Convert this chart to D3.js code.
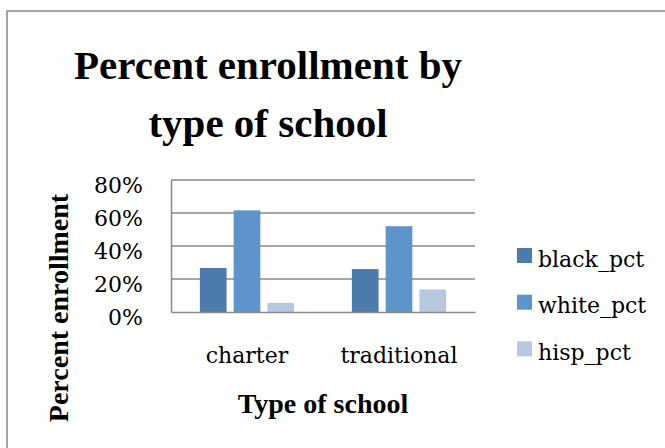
<!DOCTYPE html>
<html lang="en">

<head>
    <meta charset="UTF-8">
    <title>Percent enrollment by type of school</title>
    <script src="https://cdn.jsdelivr.net/npm/d3@7"></script>
    <style>
        * {
            margin: 0;
            padding: 0;
        }
        body {
            background: #fff;
        }
    </style>
</head>

<body>
</body>
<script>
    const width = 665
    const height = 448

    // data
    const categories = ['charter', 'traditional']
    const seriesNames = ['black_pct', 'white_pct', 'hisp_pct']
    const blackPct = [0.267, 0.260]
    const whitePct = [0.616, 0.520]
    const hispPct = [0.055, 0.137]
    const yTicks = [0, 0.2, 0.4, 0.6, 0.8]
    const colors = ['#4e7bad', '#5d95ca', '#b8c7e2']

    const values = [blackPct, whitePct, hispPct]

    const svg = d3.select('body')
        .append('svg')
        .attr('width', width)
        .attr('height', height)

    // plot area
    const plot = { left: 171, right: 475, top: 180, bottom: 312 }

    // chart border (runs off the right and bottom edges)
    svg.append('rect')
        .attr('x', 7)
        .attr('y', 11)
        .attr('width', 720)
        .attr('height', 520)
        .attr('fill', 'none')
        .attr('stroke', '#a3a3a3')
        .attr('stroke-width', 2)

    const x0 = d3.scaleBand()
        .domain(categories)
        .range([plot.left, plot.right])
        .paddingInner(0.38)
        .paddingOuter(0.19)

    const x1 = d3.scaleBand()
        .domain(seriesNames)
        .range([0, x0.bandwidth()])
        .paddingInner(0.21)

    const y = d3.scaleLinear()
        .domain([0, 0.8])
        .range([plot.bottom, plot.top])

    // gridlines
    svg.append('g')
        .selectAll('line')
        .data(yTicks.filter(d => d > 0))
        .enter()
        .append('line')
        .attr('x1', plot.left)
        .attr('x2', plot.right)
        .attr('y1', d => y(d))
        .attr('y2', d => y(d))
        .attr('stroke', '#8a8a8a')
        .attr('stroke-width', 1.5)

    // bars
    const groups = svg.selectAll('.group')
        .data(categories)
        .enter()
        .append('g')
        .attr('class', 'group')
        .attr('transform', d => 'translate(' + x0(d) + ',0)')

    groups.selectAll('rect')
        .data((c, i) => seriesNames.map((s, j) => ({ s: s, v: values[j][i], j: j })))
        .enter()
        .append('rect')
        .attr('x', d => x1(d.s))
        .attr('y', d => y(d.v))
        .attr('width', x1.bandwidth())
        .attr('height', d => plot.bottom - y(d.v))
        .attr('fill', d => colors[d.j])

    // y axis
    const yAxis = d3.axisLeft(y)
        .tickValues(yTicks)
        .tickFormat(d3.format('.0%'))
        .tickSize(0)
        .tickPadding(28)

    const gy = svg.append('g')
        .attr('transform', 'translate(' + plot.left + ',0)')
        .call(yAxis)
    gy.select('.domain').attr('stroke', '#8a8a8a').attr('stroke-width', 1.5)
    gy.selectAll('text')
        .attr('font-family', 'DejaVu Serif')
        .attr('font-size', 22)
        .attr('fill', '#000')
        .attr('dy', '0.55em')

    // x axis
    const xAxis = d3.axisBottom(x0)
        .tickSize(0)
        .tickPadding(35)

    const gx = svg.append('g')
        .attr('transform', 'translate(0,' + plot.bottom + ')')
        .call(xAxis)
    gx.select('.domain').attr('stroke', '#8a8a8a').attr('stroke-width', 1.5)
    gx.selectAll('text')
        .attr('font-family', 'DejaVu Serif')
        .attr('font-size', 22)
        .attr('fill', '#000')

    // title
    const title = svg.append('text')
        .attr('text-anchor', 'middle')
        .attr('font-family', 'Liberation Serif')
        .attr('font-weight', 'bold')
        .attr('font-size', 41)
        .attr('fill', '#000')
    title.append('tspan').attr('x', 268).attr('y', 79).text('Percent enrollment by')
    title.append('tspan').attr('x', 268).attr('y', 137).text('type of school')

    // axis titles
    svg.append('text')
        .attr('x', 323)
        .attr('y', 413)
        .attr('text-anchor', 'middle')
        .attr('font-family', 'Liberation Serif')
        .attr('font-weight', 'bold')
        .attr('font-size', 28)
        .text('Type of school')

    svg.append('text')
        .attr('transform', 'translate(68,308) rotate(-90)')
        .attr('text-anchor', 'middle')
        .attr('font-family', 'Liberation Serif')
        .attr('font-weight', 'bold')
        .attr('font-size', 28)
        .text('Percent enrollment')

    // legend
    const legend = svg.selectAll('.legend')
        .data(seriesNames)
        .enter()
        .append('g')
        .attr('class', 'legend')
        .attr('transform', (d, i) => 'translate(517,' + (248 + i * 46.7) + ')')

    legend.append('rect')
        .attr('width', 15)
        .attr('height', 15)
        .attr('fill', (d, i) => colors[i])

    legend.append('text')
        .attr('x', 21)
        .attr('y', 18.5)
        .attr('font-family', 'DejaVu Serif')
        .attr('font-size', 22)
        .text(d => d)
</script>

</html>
